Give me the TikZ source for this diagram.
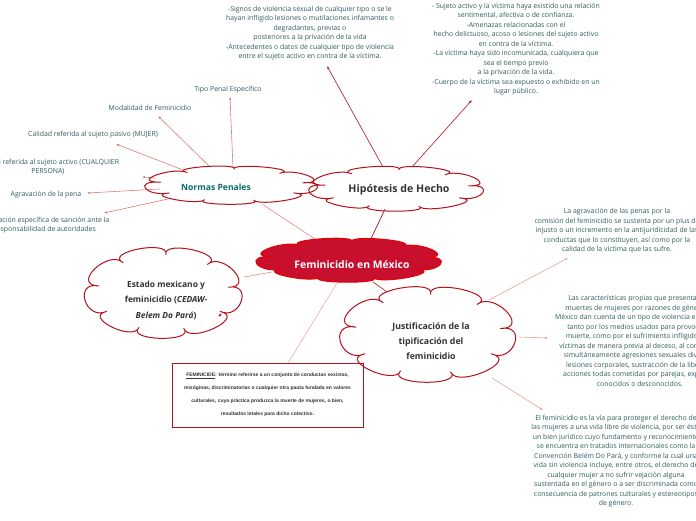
\documentclass[tikz,border=0pt]{standalone}
\usepackage{fontspec}
\setmainfont{Open Sans}
\newfontfamily\boxfont{Liberation Sans}
\usetikzlibrary{arrows.meta}
\definecolor{txt}{HTML}{2F5E5E}
\definecolor{cred}{HTML}{C8102E}
\definecolor{dred}{HTML}{B5121B}
\definecolor{lred}{HTML}{E07A7A}
\definecolor{pred}{HTML}{EBA0A0}
\definecolor{tealc}{HTML}{0B6B66}
\definecolor{dark}{HTML}{333333}
% cloud outline: name, cx, cy, half width, half height
\newcommand\mkcloud[5]{%
\begin{scope}[shift={(#2,#3)}, xscale=#4/0.98, yscale=#5/0.98]
\foreach \a/\b [count=\i] in {190/232,232/272,272/312,312/352,352/390,390/432,432/472,472/510,510/550}{
  \pgfmathsetmacro\m{(\a+\b)/2}
  \pgfmathsetmacro\c{1.6*sin((\b-\a)/2)}
  \pgfmathsetmacro\d{0.52*\c}
  \pgfmathsetmacro\e{0.28*\c}
  \coordinate (#1-v\i) at ({0.78*cos(\a)},{0.78*sin(\a)});
  \coordinate (#1-a\i) at ({0.78*cos(\a)+\d*cos(\m)-\e*cos(\m+90)},{0.78*sin(\a)+\d*sin(\m)-\e*sin(\m+90)});
  \coordinate (#1-b\i) at ({0.78*cos(\b)+\d*cos(\m)+\e*cos(\m+90)},{0.78*sin(\b)+\d*sin(\m)+\e*sin(\m+90)});
}
\coordinate (#1-v10) at ({0.78*cos(190)},{0.78*sin(190)});
\end{scope}}
\newcommand\cloudpath[1]{(#1-v1) \foreach \i [count=\j from 2] in {1,...,9}{ .. controls (#1-a\i) and (#1-b\i) .. (#1-v\j)} -- cycle}
\begin{document}
\begin{tikzpicture}[x=1pt,y=-1pt,
  small/.style={font=\fontsize{6.9}{9.5}\selectfont, text=txt, align=center, inner sep=0pt},
  cloudline/.style={draw=dred, line width=1pt, line join=round},
  title/.style={font=\bfseries\fontsize{8.6}{15}\selectfont, text=dark, align=center, inner sep=0pt},
  conn/.style={draw=#1, line width=0.6pt, -{Latex[length=3pt,width=2.4pt]}},
]
\useasboundingbox (0,0) rectangle (696,520);
\fill[white] (0,0) rectangle (696,520);

% cloud geometry
\mkcloud{np}{231.5}{185}{90.5}{20}
\mkcloud{hh}{396.5}{188.5}{91.5}{23.5}
\mkcloud{fm}{349}{260}{97}{23}
\mkcloud{em}{163.5}{292.5}{82.5}{47.5}
\mkcloud{jt}{428}{334}{92}{50}

% free ends and attachment points
\coordinate (e1) at (327,66);
\coordinate (e2) at (472,100);
\coordinate (ea1) at (230,97);
\coordinate (ea2) at (158,116);
\coordinate (ea3) at (116,144);
\coordinate (ea4) at (142,177);
\coordinate (ea5) at (87,193);
\coordinate (ea6) at (104,213);
\coordinate (er1) at (568,258);
\coordinate (er2) at (548,338);
\coordinate (er3) at (543,410);
\coordinate (em1) at (218,316);
\coordinate (h1) at (383,167);
\coordinate (h2) at (412,167);
\coordinate (n1) at (233,167);
\coordinate (n2) at (210,167);
\coordinate (n3) at (183,170);
\coordinate (n4) at (156,178);
\coordinate (n5) at (160,189);
\coordinate (n6) at (168,199);
\coordinate (j1) at (489,300);
\coordinate (j2) at (519,337);
\coordinate (j3) at (492,378);
\coordinate (fa) at (370,241);
\coordinate (hb) at (385,209);
\coordinate (fb) at (318,241);
\coordinate (nb) at (262,204);
\coordinate (eb) at (244,277);
\coordinate (fc) at (272,272);
\coordinate (fd) at (337,283);
\coordinate (bt) at (288,363);
\coordinate (fe) at (373,282);
\coordinate (jb) at (387,292);

% connectors
\draw[dred, line width=0.7pt] (fa) -- (hb);
\draw[lred, line width=0.5pt] (fb) -- (nb);
\draw[lred, line width=0.5pt] (eb) -- (fc);
\draw[pred, line width=0.5pt] (fd) -- (bt);
\draw[dred, line width=0.6pt] (fe) -- (jb);

\draw[conn=dred] (h1) -- (e1);
\draw[conn=dred] (h2) -- (e2);
\draw[conn=lred] (n1) -- (ea1);
\draw[conn=lred] (n2) -- (ea2);
\draw[conn=lred] (n3) -- (ea3);
\draw[conn=lred] (n4) -- (ea4);
\draw[conn=lred] (n5) -- (ea5);
\draw[conn=lred] (n6) -- (ea6);
\draw[conn=pred] (j1) -- (er1);
\draw[conn=pred] (j2) -- (er2);
\draw[conn=pred] (j3) -- (er3);

% clouds
\draw[cloudline] \cloudpath{np};
\draw[cloudline] \cloudpath{hh};
\filldraw[fill=cred, draw=red!90!black, line width=1pt] \cloudpath{fm};
\draw[cloudline] \cloudpath{em};
\draw[cloudline] \cloudpath{jt};

\node[title, font=\bfseries\fontsize{8.6}{9}\selectfont, text=tealc] (np) at (216,187) {Normas Penales};
\node[title, font=\bfseries\fontsize{10.6}{11}\selectfont] (hh) at (399,190) {Hip\'otesis de Hecho};
\node[title, font=\bfseries\fontsize{10.4}{11}\selectfont, text=white] (fm) at (352,265) {Feminicidio en M\'exico};
\node[title, font=\bfseries\fontsize{8.4}{15.5}\selectfont] (em) at (166,300) {Estado mexicano y\\feminicidio (\textit{CEDAW-}\\\textit{Belem Do Par\'a})};
\node[title, font=\bfseries\fontsize{8.8}{14.8}\selectfont] (jt) at (431,341) {Justificaci\'on de la\\tipificaci\'on del\\feminicidio};
\fill[cred] (em1) -- ++(3,-3) -- ++(0,3) -- cycle;

% box
\node[draw=dred, line width=0.9pt, minimum width=191pt, minimum height=64pt, inner sep=0pt,
  font=\boxfont\bfseries\fontsize{5}{13}\selectfont, text=dark, align=center] (bx) at (267.5,395)
  {\underline{FEMINICIDE}: t\'ermino referirse a un conjunto de conductas sexistas,\\
   mis\'oginas, discriminatorias o cualquier otra pauta fundada en valores\\
   culturales, cuya pr\'actica produzca la muerte de mujeres, o bien,\\
   resultados letales para dicho colectivo.};

% text nodes
\node[small, anchor=north] (t1) at (310,6) {-Signos de violencia sexual de cualquier tipo o se le\\hayan infligido lesiones o mutilaciones infamantes o\\degradantes, previas o\\posteriores a la privaci\'on de la vida\\-Antecedentes o datos de cualquier tipo de violencia\\entre el sujeto activo en contra de la v\'ictima.};
\node[small, anchor=north] (t2) at (516,3) {- Sujeto activo y la v\'ictima haya existido una relaci\'on\\sentimental, afectiva o de confianza.\\-Amenazas relacionadas con el\\hecho delictuoso, acoso o lesiones del sujeto activo\\en contra de la v\'ictima.\\-La v\'ictima haya sido incomunicada, cualquiera que\\sea el tiempo previo\\a la privaci\'on de la vida.\\-Cuerpo de la v\'ictima sea expuesto o exhibido en un\\lugar p\'ublico.};
\node[small] (a1) at (228,90) {Tipo Penal Espec\'ifico};
\node[small] (a2) at (150,108) {Modalidad de Feminicidio};
\node[small] (a3) at (93,135) {Calidad referida al sujeto pasivo (MUJER)};
\node[small] (a4) at (48,167) {Calidad referida al sujeto activo (CUALQUIER\\PERSONA)};
\node[small] (a5) at (46,195) {Agravaci\'on de la pena};
\node[small] (a6) at (45,225) {Regulaci\'on espec\'ifica de sanci\'on ante la\\responsabilidad de autoridades};
\node[small] (r1) at (617,231) {La agravaci\'on de las penas por la\\comisi\'on del feminicidio se sustenta por un plus de\\injusto o un incremento en la antijuridicidad de las\\conductas que lo constituyen, as\'i como por la\\calidad de la v\'ictima que las sufre.};
\node[small] (r2) at (640,341) {Las caracter\'isticas propias que presentan las\\muertes de mujeres por razones de g\'enero en\\M\'exico dan cuenta de un tipo de violencia espec\'ifica,\\tanto por los medios usados para provocar la\\muerte, como por el sufrimiento infligido a las\\v\'ictimas de manera previa al deceso, al cometerse\\simult\'aneamente agresiones sexuales diversas,\\lesiones corporales, sustracci\'on de la libertad,\\acciones todas cometidas por parejas, expareja,\\conocidos o desconocidos.};
\node[small] (r3) at (616,461) {El feminicidio es la v\'ia para proteger el derecho de\\las mujeres a una vida libre de violencia, por ser \'este\\un bien jur\'idico cuyo fundamento y reconocimiento\\se encuentra en tratados internacionales como la\\Convenci\'on Bel\'em Do Par\'a, y conforme la cual una\\vida sin violencia incluye, entre otros, el derecho de\\cualquier mujer a no sufrir vejaci\'on alguna\\sustentada en el g\'enero o a ser discriminada como\\consecuencia de patrones culturales y estereotipos\\de g\'enero.};
\end{tikzpicture}
\end{document}
